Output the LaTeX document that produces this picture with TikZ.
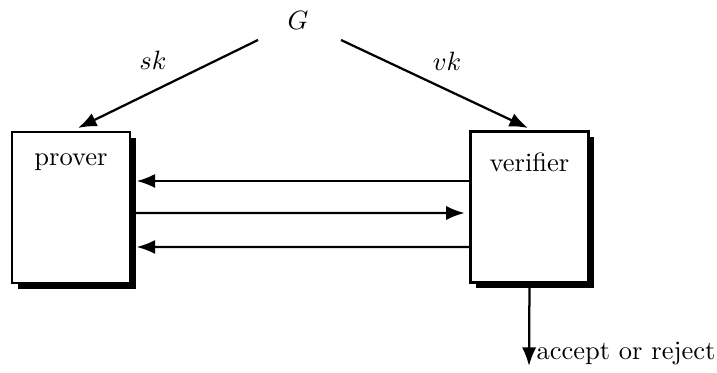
\documentclass[tikz,border=0pt]{standalone}
\usetikzlibrary{arrows.meta,shadows,calc}
\begin{document}
\begin{tikzpicture}[x=0.3774pt,y=-0.3774pt,
  lw/.style={line width=0.85pt},
  arr/.style={lw,-{Latex[length=7pt,width=5.4pt]}},
  box/.style={draw,lw,fill=white,minimum width=118*0.3774pt,minimum height=151*0.3774pt,
    inner sep=0pt,drop shadow={shadow xshift=2.1pt,shadow yshift=-2.1pt,fill=black,opacity=1}},
  lbl/.style={inner sep=0pt}]
\useasboundingbox (0,0) rectangle (717,373);
\node[box] (prover) at (71,207.5) {};
\node[box] (verifier) at (529.5,207) {};
\node[lbl,anchor=base] (pt) at (71,166) {prover};
\node[lbl,anchor=base] (vt) at (529.5,172) {verifier};
\node[lbl] (G) at (298,20) {$G$};
\coordinate (gl) at (258,40);
\coordinate (gr) at (341,40);
\coordinate (pin) at (78,128);
\coordinate (vin) at (528,128);
\draw[arr] (gl) -- (pin);
\draw[arr] (gr) -- (vin);
\node[lbl] (sk) at (153,60) {$sk$};
\node[lbl] (vk) at (447,61) {$vk$};
\draw[arr,shorten >=2.1pt] ($(verifier.west)+(0,-26)$) -- ($(prover.east)+(0,-26.5)$);
\draw[arr,shorten >=1.8pt] ($(prover.east)+(0,5.5)$) -- ($(verifier.west)+(0,6)$);
\draw[arr,shorten >=2.1pt] ($(verifier.west)+(0,40)$) -- ($(prover.east)+(0,39.5)$);
\coordinate (out) at (529,366);
\draw[arr] (verifier.south) -- (out);
\node[lbl,anchor=base west] (acc) at (536,359) {accept or reject};
\end{tikzpicture}
\end{document}
